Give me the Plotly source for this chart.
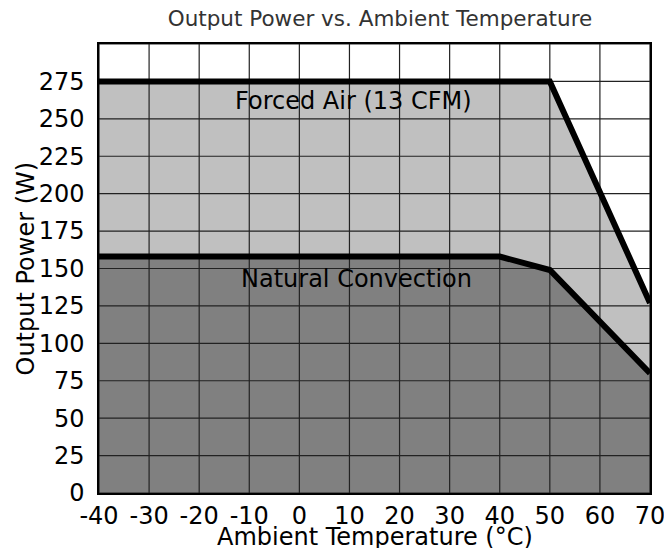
import plotly.graph_objects as go

temp_forced = [-40, 50, 70]
power_forced = [275, 275, 127]
temp_natural = [-40, 40, 50, 70]
power_natural = [158, 158, 149, 80]
x_ticks = [-40, -30, -20, -10, 0, 10, 20, 30, 40, 50, 60, 70]
y_ticks = [0, 25, 50, 75, 100, 125, 150, 175, 200, 225, 250, 275]
y_grid = y_ticks + [300]

FONT = "DejaVu Sans"
fig = go.Figure()
fig.add_trace(go.Scatter(x=temp_forced, y=power_forced, fill="tozeroy",
                         fillcolor="#c0c0c0", mode="none", showlegend=False))
fig.add_trace(go.Scatter(x=temp_natural, y=power_natural, fill="tozeroy",
                         fillcolor="#808080", mode="none", showlegend=False))

# grid lines drawn above fills
gx, gy = [], []
for v in x_ticks:
    gx += [v, v, None]
    gy += [0, 300, None]
for v in y_grid:
    gx += [-40, 70, None]
    gy += [v, v, None]
fig.add_trace(go.Scatter(x=gx, y=gy, mode="lines", line=dict(color="#222222", width=1.2),
                         showlegend=False, hoverinfo="skip"))

fig.add_trace(go.Scatter(x=temp_forced, y=power_forced, mode="lines",
                         line=dict(color="black", width=6), showlegend=False))
fig.add_trace(go.Scatter(x=temp_natural, y=power_natural, mode="lines",
                         line=dict(color="black", width=6), showlegend=False))

fig.add_annotation(x=10.9, y=262, text="Forced Air (13 CFM)", showarrow=False,
                   font=dict(family=FONT, size=24, color="black"))
fig.add_annotation(x=11.5, y=143, text="Natural Convection", showarrow=False,
                   font=dict(family=FONT, size=24, color="black"))

# axis titles
fig.add_annotation(xref="paper", yref="paper", x=0.5, y=0, yshift=-44,
                   text="Ambient Temperature (°C)", showarrow=False,
                   xanchor="center", yanchor="middle",
                   font=dict(family=FONT, size=24, color="black"))
fig.add_annotation(xref="paper", yref="paper", x=0, y=0.5, xshift=-74,
                   text="Output Power (W)", showarrow=False, textangle=-90,
                   xanchor="center", yanchor="middle",
                   font=dict(family=FONT, size=24, color="black"))

fig.update_layout(
    width=664, height=548,
    margin=dict(l=99, r=14, t=44, b=55, autoexpand=False),
    plot_bgcolor="white", paper_bgcolor="white",
    title=dict(text="Output Power vs. Ambient Temperature", x=380 / 664, xanchor="center",
               y=1 - 18 / 548, yanchor="middle", font=dict(family=FONT, size=21.5, color="#333333")),
    xaxis=dict(range=[-40, 70], tickvals=x_ticks, ticktext=[str(v) for v in x_ticks],
               showgrid=False, zeroline=False, showline=True, linecolor="black", linewidth=1.5,
               mirror=True, ticks="", automargin=False, ticklabelstandoff=0,
               ticklabeloverflow="allow",
               tickfont=dict(family=FONT, size=24, color="black")),
    yaxis=dict(range=[0, 300], tickvals=y_ticks, ticktext=[str(v) for v in y_ticks],
               showgrid=False, zeroline=False, showline=True, linecolor="black", linewidth=1.5,
               mirror=True, ticks="", automargin=False, ticklabelstandoff=8,
               ticklabeloverflow="allow",
               tickfont=dict(family=FONT, size=24, color="black")),
)
fig.write_html("out.html", config={"displayModeBar": False},
               post_script="document.body.style.margin='0';document.body.style.overflow='hidden';")
